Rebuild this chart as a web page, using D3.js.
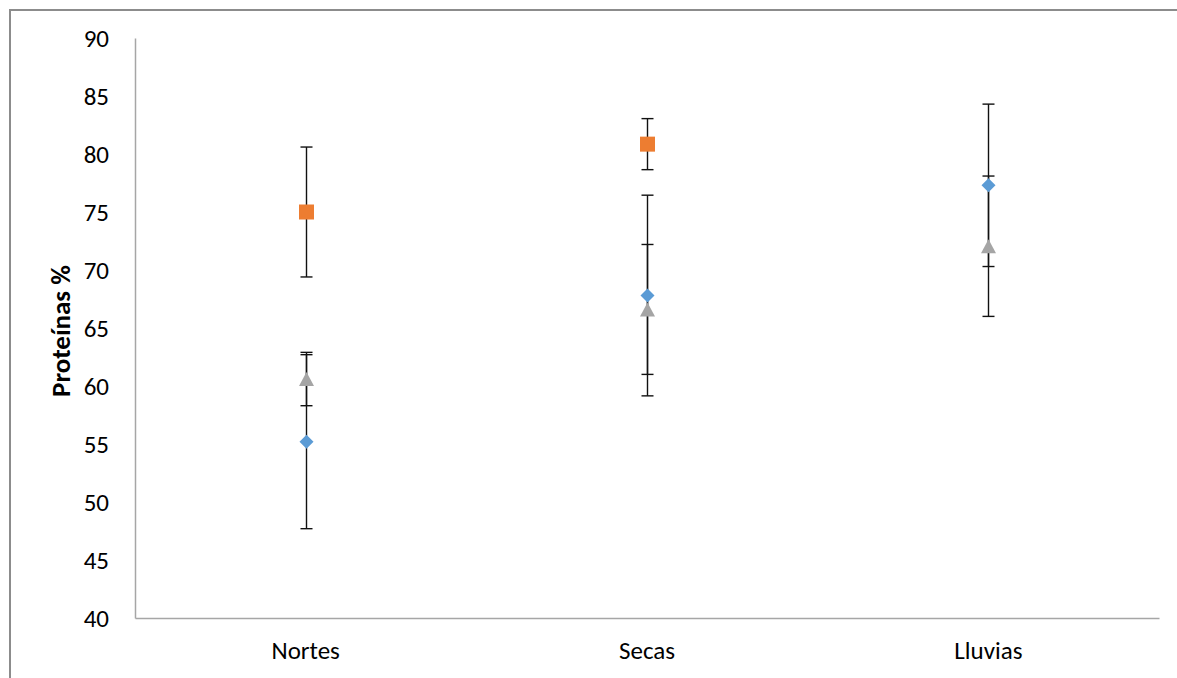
<!DOCTYPE html>
<html lang="es">
<head>
<meta charset="UTF-8">
<title>Proteínas %</title>
<script src="https://cdn.jsdelivr.net/npm/d3@7"></script>
<style>
body { margin: 0; background: #fff; }
svg { display: block; font-family: Carlito, Lato, 'Open Sans', sans-serif; }
.axis text { fill: #000; font-size: 25px; font-family: Carlito, Lato, 'Open Sans', sans-serif; }
.axis path { stroke: #a6a6a6; stroke-width: 1.5px; }
.ytitle { font-size: 27px; font-weight: bold; fill: #000; }
</style>
</head>
<body>
<svg width="1177" height="678"></svg>
<script>
// data
var categories = ["Nortes", "Secas", "Lluvias"];
var yTicks = [40, 45, 50, 55, 60, 65, 70, 75, 80, 85, 90];

var blueVals   = [55.2, 67.8, 77.3];
var blueErr    = [7.5, 8.65, 7.0];
var orangeVals = [75.0, 80.85, null];
var orangeErr  = [5.6, 2.2, null];
var grayVals   = [60.6, 66.6, 72.05];
var grayErr    = [2.3, 5.6, 6.05];

var series = [
    { vals: blueVals, err: blueErr, color: "#5b9bd5", shape: "diamond" },
    { vals: orangeVals, err: orangeErr, color: "#ed7d31", shape: "square" },
    { vals: grayVals, err: grayErr, color: "#a5a5a5", shape: "triangle" }
];

var svg = d3.select("svg");

// outer frame (left + top only visible)
svg.append("path")
    .attr("d", "M10,678V10H1177")
    .attr("fill", "none")
    .attr("stroke", "#8c8c8c")
    .attr("stroke-width", 2);

var x = d3.scaleBand().domain(categories).range([135, 1159]).padding(0);
var y = d3.scaleLinear().domain([40, 90]).range([618, 38]);

svg.append("g")
    .attr("class", "axis")
    .attr("transform", "translate(135,0)")
    .call(d3.axisLeft(y).tickValues(yTicks).tickSize(0).tickSizeOuter(0).tickPadding(26))
    .call(function(g) { g.selectAll("text").attr("dy", "0.35em"); });

svg.append("g")
    .attr("class", "axis")
    .attr("transform", "translate(0,618)")
    .call(d3.axisBottom(x).tickSize(0).tickSizeOuter(0).tickPadding(23));

svg.append("text")
    .attr("class", "ytitle")
    .attr("transform", "translate(70,331) rotate(-90)")
    .attr("text-anchor", "middle")
    .text("Proteínas %");

function cx(i) { return x(categories[i]) + x.bandwidth() / 2; }

// error bars
var capW = 6;
series.forEach(function(s) {
    s.vals.forEach(function(v, i) {
        if (v == null) return;
        var px = Math.round(cx(i)) + 0.5,
            hi = y(v + s.err[i]),
            lo = y(v - s.err[i]);
        var g = svg.append("g").attr("stroke", "#111").attr("stroke-width", 1.4);
        g.append("line").attr("x1", px).attr("x2", px).attr("y1", hi).attr("y2", lo);
        g.append("line").attr("x1", px - capW).attr("x2", px + capW).attr("y1", hi).attr("y2", hi);
        g.append("line").attr("x1", px - capW).attr("x2", px + capW).attr("y1", lo).attr("y2", lo);
    });
});

function shapePath(shape, px, py) {
    if (shape === "square") {
        return "M" + (px - 7.5) + "," + (py - 7.5) + "h15v15h-15Z";
    } else if (shape === "diamond") {
        return "M" + px + "," + (py - 7) + "L" + (px + 7) + "," + py +
            "L" + px + "," + (py + 7) + "L" + (px - 7) + "," + py + "Z";
    }
    return "M" + px + "," + (py - 7) + "L" + (px + 7.5) + "," + (py + 7) +
        "L" + (px - 7.5) + "," + (py + 7) + "Z";
}

// markers
series.forEach(function(s) {
    s.vals.forEach(function(v, i) {
        if (v == null) return;
        svg.append("path")
            .attr("d", shapePath(s.shape, Math.round(cx(i)) + 0.5, y(v)))
            .attr("fill", s.color);
    });
});
</script>
</body>
</html>
